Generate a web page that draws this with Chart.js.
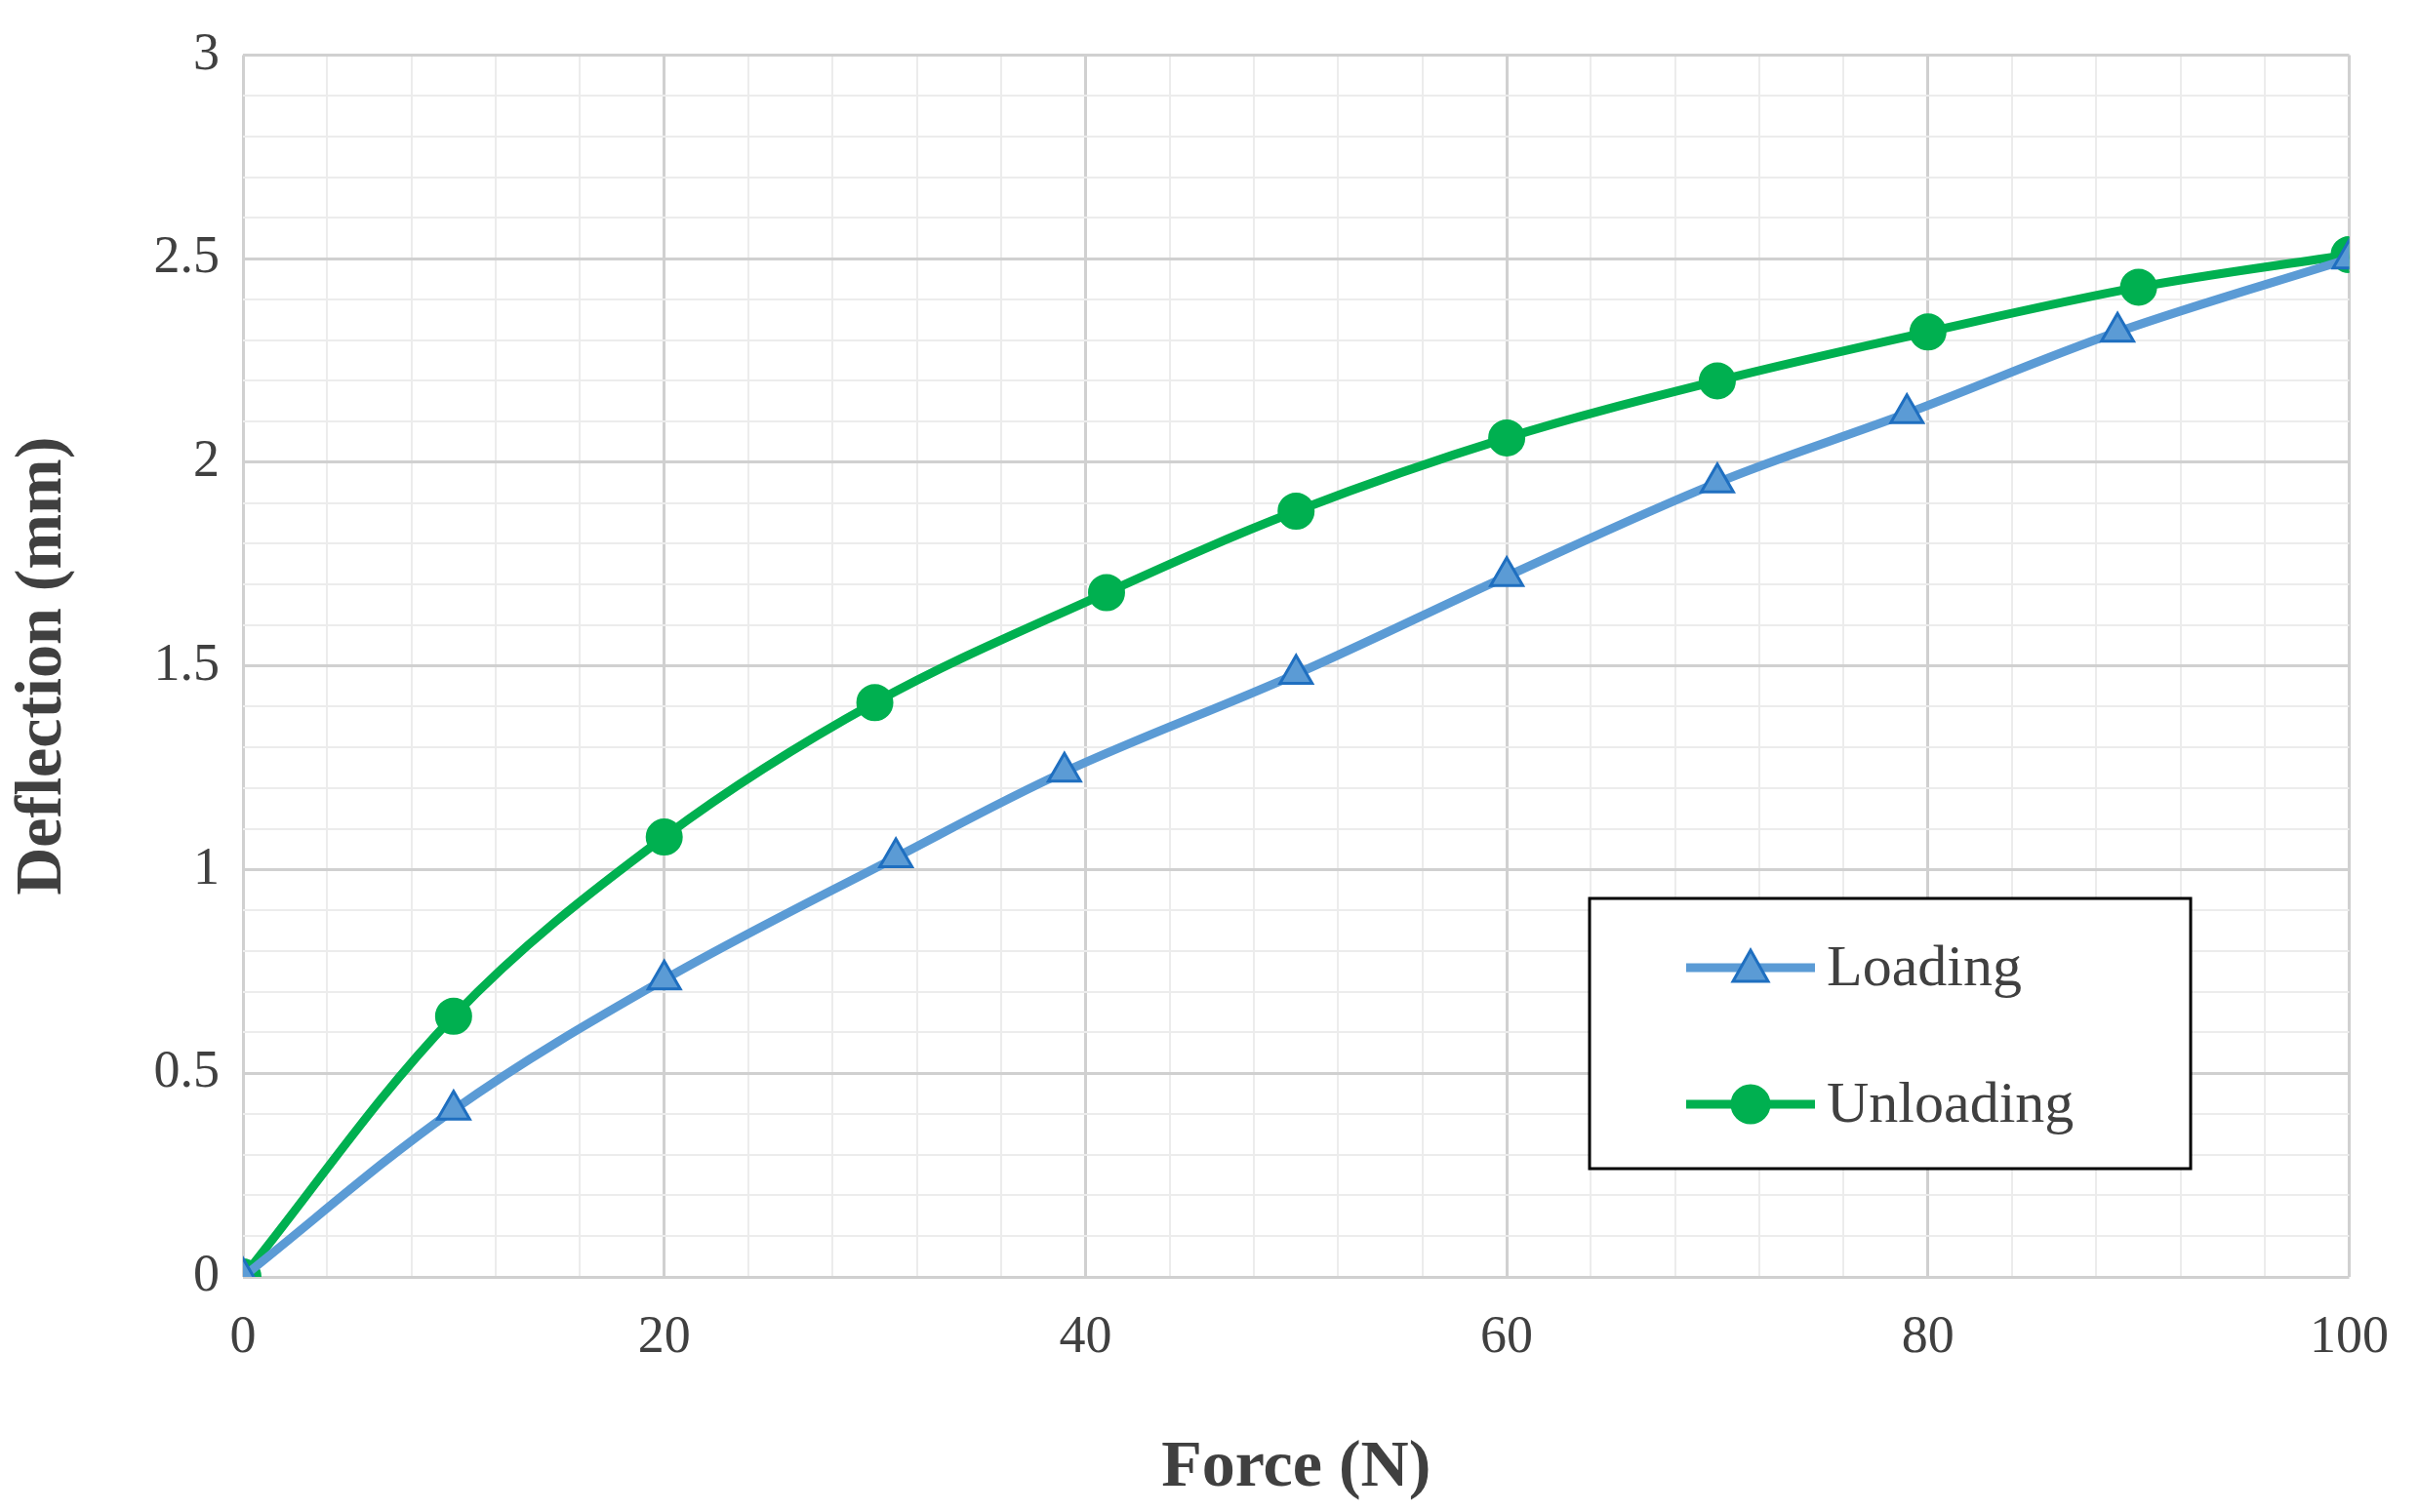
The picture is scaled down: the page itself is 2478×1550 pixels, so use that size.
<!DOCTYPE html>
<html><head><meta charset="utf-8">
<script src="https://cdn.jsdelivr.net/npm/chart.js@4"></script>
<style>html,body{margin:0;padding:0;background:#fff}#w{width:2478px;height:1550px}</style>
</head><body><div id="w"><canvas id="c"></canvas></div>
<script>
const loadX=[0,10,20,31,39,50,60,70,79,89,100];
const loadY=[0,0.41,0.73,1.03,1.24,1.48,1.72,1.95,2.12,2.32,2.5];
const unloadX=[0,10,20,30,41,50,60,70,80,90,100];
const unloadY=[0,0.64,1.08,1.41,1.68,1.88,2.06,2.2,2.32,2.43,2.51];
const seriesNames=['Loading','Unloading'];
const F='"Liberation Serif","Times New Roman",serif';
const pts=(xs,ys)=>xs.map((x,i)=>({x:x,y:ys[i]}));
const legendPlugin={id:'lg',afterDraw(ch){
 const c=ch.ctx;const L=1629,T=921,W=616,H=277;
 c.save();c.fillStyle='#fff';c.fillRect(L,T,W,H);c.lineWidth=3;c.strokeStyle='#000';c.strokeRect(L,T,W,H);
 ch.data.datasets.forEach((d,i)=>{const y=T+71+i*140;
  c.strokeStyle=d.borderColor;c.lineWidth=9;c.beginPath();c.moveTo(1728,y);c.lineTo(1860,y);c.stroke();
  c.fillStyle=d.pointBackgroundColor;c.strokeStyle=d.pointBorderColor;c.lineWidth=3;c.beginPath();
  if(d.pointStyle==='triangle'){c.moveTo(1794,y-18);c.lineTo(1812,y+14);c.lineTo(1776,y+14);c.closePath();}
  else c.arc(1794,y,19,0,Math.PI*2);
  c.fill();c.stroke();
  c.fillStyle='#404040';c.font='60px '+F;c.textBaseline='middle';c.fillText(d.label,1872,y+2);});
 c.restore();}};
new Chart(document.getElementById('c'),{type:'scatter',
data:{datasets:[
 {label:seriesNames[0],data:pts(loadX,loadY),showLine:true,tension:0.35,borderColor:'#5B9BD5',borderWidth:9,
  pointStyle:'triangle',pointRadius:19,pointBackgroundColor:'#5B9BD5',pointBorderColor:'#1F6FC0',pointBorderWidth:3},
 {label:seriesNames[1],data:pts(unloadX,unloadY),showLine:true,tension:0.35,borderColor:'#00B050',borderWidth:9,
  pointStyle:'circle',pointRadius:18,pointBackgroundColor:'#00B050',pointBorderColor:'#00B050',pointBorderWidth:2}
]},
options:{responsive:true,maintainAspectRatio:false,animation:false,devicePixelRatio:1,
 layout:{padding:{top:43,right:65}},
 plugins:{legend:{display:false},tooltip:{enabled:false}},
 scales:{
  x:{min:0,max:100,border:{display:false},
   afterFit(s){s.height=241;},
   ticks:{stepSize:4,autoSkip:false,maxRotation:0,padding:30,color:'#404040',font:{family:F,size:54},
    callback:v=>v%20===0?v:''},
   grid:{drawTicks:false,color:c=>c.tick&&c.tick.value%20===0?'#d0d0d0':'#ececec',lineWidth:c=>c.tick&&c.tick.value%20===0?3:2},
   title:{display:true,text:'Force (N)',color:'#404040',font:{family:F,size:68,weight:'bold'},padding:{top:20}}},
  y:{min:0,max:3,border:{display:false},
   afterFit(s){s.width=249;},
   ticks:{stepSize:0.1,autoSkip:false,padding:24,color:'#404040',font:{family:F,size:54},
    callback:v=>{const r=Math.round(v*10);return r%5===0?String(r/10):'';}},
   grid:{drawTicks:false,color:c=>c.tick&&Math.round(c.tick.value*10)%5===0?'#d0d0d0':'#ececec',lineWidth:c=>c.tick&&Math.round(c.tick.value*10)%5===0?3:2},
   title:{display:true,text:'Deflection (mm)',color:'#404040',font:{family:F,size:68,weight:'bold'},padding:{bottom:10}}}
 }},plugins:[legendPlugin]});
</script></body></html>
